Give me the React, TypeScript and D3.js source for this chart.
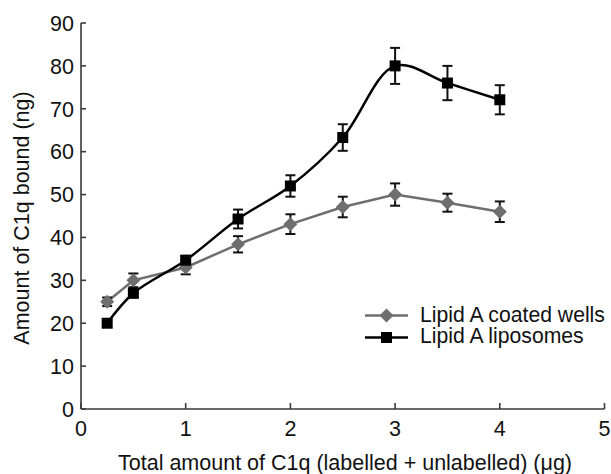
import React from "react";
import * as d3 from "d3";

const xValues = [0.25, 0.5, 1, 1.5, 2, 2.5, 3, 3.5, 4];
const coatedWells = [25, 30, 33, 38.4, 43.1, 47.1, 50, 48.1, 46];
const coatedWellsErr = [1, 1.6, 1.6, 1.9, 2.3, 2.4, 2.6, 2.1, 2.4];
const liposomes = [20, 27, 34.7, 44.3, 52, 63.3, 80, 76, 72.1];
const liposomesErr = [0.8, 1, 1, 2.2, 2.5, 3.1, 4.2, 4, 3.4];
const xTicks = [0, 1, 2, 3, 4, 5];
const yTicks = [0, 10, 20, 30, 40, 50, 60, 70, 80, 90];
const xTitle = "Total amount of C1q (labelled + unlabelled) (\u03bcg)";
const yTitle = "Amount of C1q bound (ng)";
const legendLabels = ["Lipid A coated wells", "Lipid A liposomes"];

export default function App() {
  const W = 611, H = 474;
  const x = d3.scaleLinear().domain([0, 5]).range([81, 604.5]);
  const y = d3.scaleLinear().domain([0, 90]).range([409, 23]);
  const font = "'Liberation Sans', Arial, Helvetica, sans-serif";
  const gray = "#6e6e6e";
  const axisColor = "#3a3a3a";
  const txt = "#111";

  const smooth = d3
    .line<number>()
    .x((_, i) => x(xValues[i]))
    .y((d) => y(d))
    .curve(d3.curveCatmullRom.alpha(0.5));
  const straight = d3
    .line<number>()
    .x((_, i) => x(xValues[i]))
    .y((d) => y(d));

  const errBars = (vals: number[], errs: number[], key: string) =>
    vals.map((v, i) => {
      const cx = x(xValues[i]);
      const t = y(v + errs[i]);
      const b = y(v - errs[i]);
      return (
        <g key={key + i} stroke="#111" strokeWidth={2}>
          <line x1={cx} x2={cx} y1={t} y2={b} />
          <line x1={cx - 5} x2={cx + 5} y1={t} y2={t} />
          <line x1={cx - 5} x2={cx + 5} y1={b} y2={b} />
        </g>
      );
    });

  const diamond = (cx: number, cy: number, r: number, k: string) => (
    <path
      key={k}
      d={`M${cx},${cy - r}L${cx + r},${cy}L${cx},${cy + r}L${cx - r},${cy}Z`}
      fill={gray}
    />
  );
  const square = (cx: number, cy: number, s: number, k: string) => (
    <rect key={k} x={cx - s / 2} y={cy - s / 2} width={s} height={s} fill="#000" />
  );

  return (
    <svg width={W} height={H} style={{ position: "absolute", left: 0, top: 0 }} fontFamily={font}>
      <rect width={W} height={H} fill="#fff" />
      {/* axes */}
      <line x1={x(0)} x2={x(0)} y1={y(90)} y2={y(0)} stroke={axisColor} strokeWidth={1.6} />
      <line x1={x(0)} x2={x(5)} y1={y(0)} y2={y(0)} stroke={axisColor} strokeWidth={1.6} />
      {yTicks.map((t) => (
        <g key={"yt" + t}>
          <line x1={x(0)} x2={x(0) + 5} y1={y(t)} y2={y(t)} stroke={axisColor} strokeWidth={1.6} />
          <text x={74} y={y(t)} dy="0.36em" textAnchor="end" fontSize={21.5} fill={txt}>
            {t}
          </text>
        </g>
      ))}
      {xTicks.map((t) => (
        <g key={"xt" + t}>
          <line x1={x(t)} x2={x(t)} y1={y(0)} y2={y(0) - 6} stroke={axisColor} strokeWidth={1.6} />
          <text x={x(t)} y={436} textAnchor="middle" fontSize={21.5} fill={txt}>
            {t}
          </text>
        </g>
      ))}
      <text x={345} y={469.5} textAnchor="middle" fontSize={21.5} fill={txt}>
        {xTitle}
      </text>
      <text
        transform={`translate(29,218) rotate(-90)`}
        textAnchor="middle"
        fontSize={21.5}
        fill={txt}
      >
        {yTitle}
      </text>

      {/* series lines */}
      <path d={straight(coatedWells) || ""} fill="none" stroke={gray} strokeWidth={2.5} />
      <path d={smooth(liposomes) || ""} fill="none" stroke="#000" strokeWidth={2.5} />

      {errBars(coatedWells, coatedWellsErr, "ce")}
      {errBars(liposomes, liposomesErr, "le")}

      {coatedWells.map((v, i) => diamond(x(xValues[i]), y(v), 7, "cd" + i))}
      {liposomes.map((v, i) => square(x(xValues[i]), y(v), 11, "ls" + i))}

      {/* legend */}
      <line x1={365} x2={408} y1={315.5} y2={315.5} stroke={gray} strokeWidth={2.5} />
      {diamond(386.5, 315.5, 7, "lg1")}
      <text x={420} y={322} fontSize={21.2} fill={txt}>
        {legendLabels[0]}
      </text>
      <line x1={365} x2={408} y1={337.5} y2={337.5} stroke="#000" strokeWidth={2.5} />
      {square(386.5, 337.5, 11, "lg2")}
      <text x={420} y={342.5} fontSize={21.2} fill={txt}>
        {legendLabels[1]}
      </text>
    </svg>
  );
}
